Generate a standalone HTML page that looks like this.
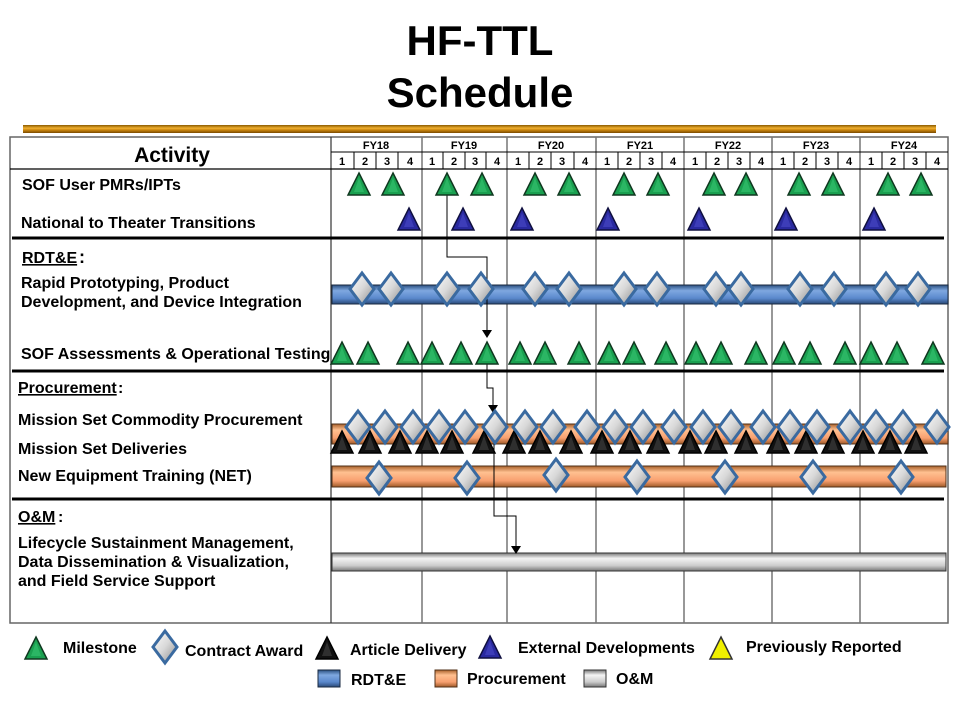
<!DOCTYPE html>
<html><head><meta charset="utf-8"><style>
html,body{margin:0;padding:0;background:#fff;width:960px;height:720px;overflow:hidden}
svg{display:block;font-family:"Liberation Sans",Arial,sans-serif}
</style></head><body>
<svg width="960" height="720" viewBox="0 0 960 720" xmlns="http://www.w3.org/2000/svg">
<defs>
<linearGradient id="gold" x1="0" y1="0" x2="0" y2="1"><stop offset="0" stop-color="#8a5a00"/><stop offset=".4" stop-color="#f0b030"/><stop offset=".6" stop-color="#d08a10"/><stop offset="1" stop-color="#7a4a00"/></linearGradient>
<linearGradient id="blue" x1="0" y1="0" x2="0" y2="1"><stop offset="0" stop-color="#2a4f80"/><stop offset=".3" stop-color="#7fa8e0"/><stop offset=".7" stop-color="#5a88cc"/><stop offset="1" stop-color="#2a4a78"/></linearGradient>
<linearGradient id="orange" x1="0" y1="0" x2="0" y2="1"><stop offset="0" stop-color="#a8602a"/><stop offset=".3" stop-color="#ffc090"/><stop offset=".7" stop-color="#f8a070"/><stop offset="1" stop-color="#a05a28"/></linearGradient>
<linearGradient id="gray" x1="0" y1="0" x2="0" y2="1"><stop offset="0" stop-color="#777"/><stop offset=".3" stop-color="#f4f4f4"/><stop offset=".7" stop-color="#ccc"/><stop offset="1" stop-color="#777"/></linearGradient>
<linearGradient id="dia" x1="0" y1="0" x2="1" y2="1"><stop offset="0" stop-color="#fff"/><stop offset=".5" stop-color="#d8d8d8"/><stop offset="1" stop-color="#8a8a8a"/></linearGradient>
<g id="gt"><polygon points="0,-11 11,11 -11,11" fill="#1aa050" stroke="#103820" stroke-width="1.5"/><polygon points="0,-6 5,8 -5,8" fill="#3ccc78" opacity=".5"/></g>
<g id="bt"><polygon points="0,-11 11,11 -11,11" fill="#2a2aa0" stroke="#101040" stroke-width="1.5"/><polygon points="0,-6 5,8 -5,8" fill="#5050d0" opacity=".5"/></g>
<g id="kt"><polygon points="0,-11 11,11 -11,11" fill="#111" stroke="#000" stroke-width="1.5"/><polygon points="0,-6 5,8 -5,8" fill="#444" opacity=".6"/></g>
<g id="yt"><polygon points="0,-11 11,11 -11,11" fill="#f0f000" stroke="#333" stroke-width="1.5"/></g>
<g id="dm"><polygon points="0,-16 12,0 0,16 -12,0" fill="url(#dia)" stroke="#3a6aa0" stroke-width="3"/></g>
</defs>

<text x="480" y="55" text-anchor="middle" font-size="42" font-weight="bold">HF-TTL</text>
<text x="480" y="107" text-anchor="middle" font-size="42" font-weight="bold">Schedule</text>
<rect x="23" y="125" width="913" height="8" fill="url(#gold)"/>

<rect x="10" y="137" width="938" height="486" fill="none" stroke="#666" stroke-width="1.5"/>
<line x1="331" y1="137" x2="331" y2="623" stroke="#333" stroke-width="1.2"/>
<g stroke="#777" stroke-width="1.5">
<line x1="422" y1="137" x2="422" y2="623"/><line x1="507" y1="137" x2="507" y2="623"/><line x1="596" y1="137" x2="596" y2="623"/><line x1="684" y1="137" x2="684" y2="623"/><line x1="772" y1="137" x2="772" y2="623"/><line x1="860" y1="137" x2="860" y2="623"/>
</g>
<line x1="10" y1="169" x2="948" y2="169" stroke="#000" stroke-width="1.2"/>
<line x1="331" y1="152" x2="948" y2="152" stroke="#000" stroke-width="1"/>
<g stroke="#000" stroke-width="1">
<line x1="354" y1="152" x2="354" y2="169"/><line x1="376" y1="152" x2="376" y2="169"/><line x1="398" y1="152" x2="398" y2="169"/>
<line x1="443" y1="152" x2="443" y2="169"/><line x1="465" y1="152" x2="465" y2="169"/><line x1="486" y1="152" x2="486" y2="169"/>
<line x1="529" y1="152" x2="529" y2="169"/><line x1="551" y1="152" x2="551" y2="169"/><line x1="574" y1="152" x2="574" y2="169"/>
<line x1="618" y1="152" x2="618" y2="169"/><line x1="640" y1="152" x2="640" y2="169"/><line x1="662" y1="152" x2="662" y2="169"/>
<line x1="706" y1="152" x2="706" y2="169"/><line x1="728" y1="152" x2="728" y2="169"/><line x1="750" y1="152" x2="750" y2="169"/>
<line x1="794" y1="152" x2="794" y2="169"/><line x1="816" y1="152" x2="816" y2="169"/><line x1="838" y1="152" x2="838" y2="169"/>
<line x1="882" y1="152" x2="882" y2="169"/><line x1="904" y1="152" x2="904" y2="169"/><line x1="926" y1="152" x2="926" y2="169"/>
</g>
<g font-size="11" font-weight="bold" text-anchor="middle">
<text x="376" y="149">FY18</text><text x="464" y="149">FY19</text><text x="551" y="149">FY20</text><text x="640" y="149">FY21</text><text x="728" y="149">FY22</text><text x="816" y="149">FY23</text><text x="904" y="149">FY24</text>
</g>
<g font-size="11" font-weight="bold" text-anchor="middle">
<text x="342" y="165">1</text><text x="365" y="165">2</text><text x="387" y="165">3</text><text x="410" y="165">4</text>
<text x="432" y="165">1</text><text x="454" y="165">2</text><text x="475" y="165">3</text><text x="497" y="165">4</text>
<text x="518" y="165">1</text><text x="540" y="165">2</text><text x="562" y="165">3</text><text x="585" y="165">4</text>
<text x="607" y="165">1</text><text x="629" y="165">2</text><text x="651" y="165">3</text><text x="673" y="165">4</text>
<text x="695" y="165">1</text><text x="717" y="165">2</text><text x="739" y="165">3</text><text x="761" y="165">4</text>
<text x="783" y="165">1</text><text x="805" y="165">2</text><text x="827" y="165">3</text><text x="849" y="165">4</text>
<text x="871" y="165">1</text><text x="893" y="165">2</text><text x="915" y="165">3</text><text x="937" y="165">4</text>
</g>

<g stroke="#000" stroke-width="3">
<line x1="12" y1="238" x2="944" y2="238"/><line x1="12" y1="371" x2="944" y2="371"/><line x1="12" y1="499" x2="944" y2="499"/>
</g>

<g font-size="16" font-weight="bold">
<text x="172" y="162" text-anchor="middle" font-size="21">Activity</text>
<text x="22" y="190">SOF User PMRs/IPTs</text>
<text x="21" y="228">National to Theater Transitions</text>
<text x="22" y="263" font-size="16" text-decoration="underline">RDT&amp;E</text><text x="79" y="263" font-size="18">:</text>
<text x="21" y="288">Rapid Prototyping, Product</text>
<text x="21" y="307">Development, and Device Integration</text>
<text x="21" y="359">SOF Assessments &amp; Operational Testing</text>
<text x="18" y="393" text-decoration="underline">Procurement</text><text x="118" y="393">:</text>
<text x="18" y="425">Mission Set Commodity Procurement</text>
<text x="18" y="454">Mission Set Deliveries</text>
<text x="18" y="481">New Equipment Training (NET)</text>
<text x="18" y="522" text-decoration="underline">O&amp;M</text><text x="58" y="522">:</text>
<text x="18" y="548">Lifecycle Sustainment Management,</text>
<text x="18" y="567">Data Dissemination &amp; Visualization,</text>
<text x="18" y="586">and Field Service Support</text>
</g>

<rect x="332" y="285" width="616" height="19" fill="url(#blue)" stroke="#1a2a40" stroke-width="1"/>
<rect x="332" y="424" width="616" height="20" fill="url(#orange)" stroke="#503018" stroke-width="1"/>
<rect x="332" y="466" width="614" height="21" fill="url(#orange)" stroke="#503018" stroke-width="1"/>
<rect x="332" y="553" width="614" height="18" fill="url(#gray)" stroke="#333" stroke-width="1"/>

<g fill="none" stroke="#000" stroke-width="1">
<polyline points="447,190 447,257 487,257 487,330"/>
<polyline points="487,364 487,388 493,388 493,405"/>
<polyline points="494,440 494,516 516,516 516,546"/>
</g>
<g fill="#000">
<polygon points="482,330 492,330 487,338"/>
<polygon points="488,405 498,405 493,413"/>
<polygon points="511,546 521,546 516,554"/>
</g>

<g>
<use href="#gt" x="359" y="184"/><use href="#gt" x="393" y="184"/><use href="#gt" x="447" y="184"/><use href="#gt" x="482" y="184"/><use href="#gt" x="535" y="184"/><use href="#gt" x="569" y="184"/><use href="#gt" x="624" y="184"/><use href="#gt" x="658" y="184"/><use href="#gt" x="714" y="184"/><use href="#gt" x="746" y="184"/><use href="#gt" x="799" y="184"/><use href="#gt" x="833" y="184"/><use href="#gt" x="888" y="184"/><use href="#gt" x="921" y="184"/>
</g>
<g>
<use href="#bt" x="409" y="219"/><use href="#bt" x="463" y="219"/><use href="#bt" x="522" y="219"/><use href="#bt" x="608" y="219"/><use href="#bt" x="699" y="219"/><use href="#bt" x="786" y="219"/><use href="#bt" x="874" y="219"/>
</g>
<g>
<use href="#dm" x="362" y="289"/><use href="#dm" x="391" y="289"/><use href="#dm" x="447" y="289"/><use href="#dm" x="481" y="289"/><use href="#dm" x="535" y="289"/><use href="#dm" x="569" y="289"/><use href="#dm" x="624" y="289"/><use href="#dm" x="657" y="289"/><use href="#dm" x="716" y="289"/><use href="#dm" x="741" y="289"/><use href="#dm" x="800" y="289"/><use href="#dm" x="834" y="289"/><use href="#dm" x="886" y="289"/><use href="#dm" x="918" y="289"/>
</g>
<g>
<use href="#gt" x="342" y="353"/><use href="#gt" x="368" y="353"/><use href="#gt" x="408" y="353"/><use href="#gt" x="432" y="353"/><use href="#gt" x="461" y="353"/><use href="#gt" x="487" y="353"/><use href="#gt" x="520" y="353"/><use href="#gt" x="545" y="353"/><use href="#gt" x="579" y="353"/><use href="#gt" x="609" y="353"/><use href="#gt" x="634" y="353"/><use href="#gt" x="666" y="353"/><use href="#gt" x="696" y="353"/><use href="#gt" x="721" y="353"/><use href="#gt" x="756" y="353"/><use href="#gt" x="784" y="353"/><use href="#gt" x="810" y="353"/><use href="#gt" x="845" y="353"/><use href="#gt" x="871" y="353"/><use href="#gt" x="897" y="353"/><use href="#gt" x="933" y="353"/>
</g>
<g>
<use href="#kt" x="342" y="442"/><use href="#kt" x="370" y="442"/><use href="#kt" x="400" y="442"/><use href="#kt" x="427" y="442"/><use href="#kt" x="452" y="442"/><use href="#kt" x="484" y="442"/><use href="#kt" x="514" y="442"/><use href="#kt" x="540" y="442"/><use href="#kt" x="571" y="442"/><use href="#kt" x="602" y="442"/><use href="#kt" x="630" y="442"/><use href="#kt" x="658" y="442"/><use href="#kt" x="690" y="442"/><use href="#kt" x="716" y="442"/><use href="#kt" x="746" y="442"/><use href="#kt" x="778" y="442"/><use href="#kt" x="806" y="442"/><use href="#kt" x="833" y="442"/><use href="#kt" x="863" y="442"/><use href="#kt" x="890" y="442"/><use href="#kt" x="916" y="442"/>
</g>
<g>
<use href="#dm" x="358" y="427"/><use href="#dm" x="385" y="427"/><use href="#dm" x="413" y="427"/><use href="#dm" x="439" y="427"/><use href="#dm" x="465" y="427"/><use href="#dm" x="495" y="427"/><use href="#dm" x="525" y="427"/><use href="#dm" x="553" y="427"/><use href="#dm" x="587" y="427"/><use href="#dm" x="615" y="427"/><use href="#dm" x="643" y="427"/><use href="#dm" x="674" y="427"/><use href="#dm" x="703" y="427"/><use href="#dm" x="731" y="427"/><use href="#dm" x="763" y="427"/><use href="#dm" x="790" y="427"/><use href="#dm" x="817" y="427"/><use href="#dm" x="850" y="427"/><use href="#dm" x="876" y="427"/><use href="#dm" x="903" y="427"/><use href="#dm" x="937" y="427"/>
</g>
<g>
<use href="#dm" x="379" y="478"/><use href="#dm" x="467" y="478"/><use href="#dm" x="556" y="475"/><use href="#dm" x="637" y="477"/><use href="#dm" x="725" y="477"/><use href="#dm" x="813" y="477"/><use href="#dm" x="901" y="477"/>
</g>

<use href="#gt" x="36" y="648"/>
<use href="#dm" x="165" y="647"/>
<use href="#kt" x="327" y="648"/>
<use href="#bt" x="490" y="647"/>
<use href="#yt" x="721" y="648"/>
<g font-size="16" font-weight="bold">
<text x="63" y="653">Milestone</text>
<text x="185" y="656">Contract Award</text>
<text x="350" y="655">Article Delivery</text>
<text x="518" y="653">External Developments</text>
<text x="746" y="652">Previously Reported</text>
<text x="351" y="685">RDT&amp;E</text>
<text x="467" y="684">Procurement</text>
<text x="616" y="684">O&amp;M</text>
</g>
<rect x="318" y="670" width="22" height="17" fill="url(#blue)" stroke="#1a2a40"/>
<rect x="435" y="670" width="22" height="17" fill="url(#orange)" stroke="#503018"/>
<rect x="584" y="670" width="22" height="17" fill="url(#gray)" stroke="#333"/>
</svg>
</body></html>
